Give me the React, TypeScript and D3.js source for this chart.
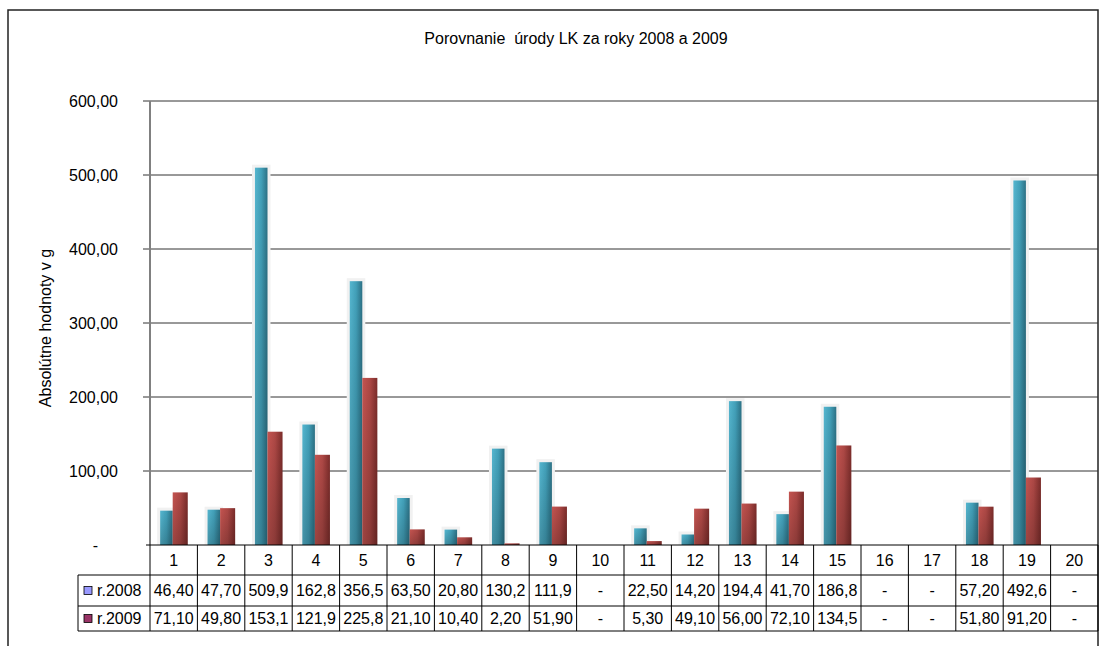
import { useEffect, useRef } from "react"
import * as d3 from "d3"

const categories = ["1", "2", "3", "4", "5", "6", "7", "8", "9", "10", "11", "12", "13", "14", "15", "16", "17", "18", "19", "20"]
const series = ["r.2008", "r.2009"]
const values2008: (number | null)[] = [46.4, 47.7, 509.9, 162.8, 356.5, 63.5, 20.8, 130.2, 111.9, null, 22.5, 14.2, 194.4, 41.7, 186.8, null, null, 57.2, 492.6, null]
const values2009: (number | null)[] = [71.1, 49.8, 153.1, 121.9, 225.8, 21.1, 10.4, 2.2, 51.9, null, 5.3, 49.1, 56.0, 72.1, 134.5, null, null, 51.8, 91.2, null]
const yTicks = [0, 100, 200, 300, 400, 500, 600]
const legendColors = ["#9999ff", "#993366"]

const W = 1104
const H = 646
const FONT = "'Liberation Sans', Arial, sans-serif"
const FS = 16

const sk = d3.formatLocale({ decimal: ",", thousands: " ", grouping: [3], currency: ["", ""] })
const f2 = sk.format(".2f")
const f1 = sk.format(".1f")
const cellText = (v: number | null) => (v == null ? "-" : v >= 100 ? f1(v) : f2(v))

export default function App() {
  const svgRef = useRef<SVGSVGElement>(null)

  useEffect(() => {
    if (!svgRef.current) return
    const svg = d3.select(svgRef.current)
    svg.selectAll("*").remove()

    const left = 150
    const right = 1098
    const x = d3.scaleBand<string>().domain(categories).range([left, right]).padding(0)
    const xs = d3.scaleBand<string>().domain(series).range([0, x.bandwidth()]).paddingInner(0).paddingOuter(0.75)
    const y = d3.scaleLinear().domain([0, 600]).range([545, 101])

    const defs = svg.append("defs")
    const tealG = defs.append("linearGradient").attr("id", "teal").attr("x1", 0).attr("x2", 1).attr("y1", 0).attr("y2", 0)
    tealG.append("stop").attr("offset", 0).attr("stop-color", "#55b6cf")
    tealG.append("stop").attr("offset", 0.5).attr("stop-color", "#42a0b9")
    tealG.append("stop").attr("offset", 1).attr("stop-color", "#2c7185")
    const redG = defs.append("linearGradient").attr("id", "red").attr("x1", 0).attr("x2", 1).attr("y1", 0).attr("y2", 0)
    redG.append("stop").attr("offset", 0).attr("stop-color", "#c45450")
    redG.append("stop").attr("offset", 0.5).attr("stop-color", "#ad4845")
    redG.append("stop").attr("offset", 1).attr("stop-color", "#7b2c2a")
    const shade = defs.append("linearGradient").attr("id", "shade").attr("x1", 0).attr("x2", 0).attr("y1", 0).attr("y2", 1)
    shade.append("stop").attr("offset", 0).attr("stop-color", "#000").attr("stop-opacity", 0)
    shade.append("stop").attr("offset", 1).attr("stop-color", "#000").attr("stop-opacity", 0.2)

    svg.append("rect").attr("width", W).attr("height", H).attr("fill", "#fff")

    // outer frame
    svg.append("rect").attr("x", 8).attr("y", 10).attr("width", 1090).attr("height", 700)
      .attr("fill", "none").attr("stroke", "#222").attr("stroke-width", 1.5)

    // title
    svg.append("text").attr("x", 576).attr("y", 38).attr("dy", "0.35em").attr("text-anchor", "middle")
      .attr("font-family", FONT).attr("font-size", FS).attr("fill", "#000").attr("xml:space", "preserve")
      .text("Porovnanie  úrody LK za roky 2008 a 2009")

    // y label
    svg.append("text").attr("transform", "translate(45,328) rotate(-90)").attr("dy", "0.35em")
      .attr("text-anchor", "middle").attr("font-family", FONT).attr("font-size", FS).attr("fill", "#000")
      .text("Absolútne hodnoty v g")

    // grid + ticks
    svg.append("g").selectAll("line").data(yTicks.filter((t) => t > 0)).join("line")
      .attr("x1", 143).attr("x2", right).attr("y1", (d) => y(d)).attr("y2", (d) => y(d))
      .attr("stroke", "#333").attr("stroke-width", 1)
    svg.append("g").selectAll("text").data(yTicks).join("text")
      .attr("x", (d) => (d === 0 ? 98 : 118)).attr("y", (d) => y(d)).attr("dy", "0.35em")
      .attr("text-anchor", "end").attr("font-family", FONT).attr("font-size", FS).attr("fill", "#000")
      .text((d) => (d === 0 ? "-" : f2(d)))
    svg.append("line").attr("x1", left).attr("x2", left).attr("y1", y(600)).attr("y2", y(0))
      .attr("stroke", "#808080").attr("stroke-width", 2)

    // bars
    const bars = svg.append("g")
    categories.forEach((c, i) => {
      const v1 = values2008[i]
      const v2 = values2009[i]
      const x0 = x(c)!
      if (v1 != null) {
        const bx = x0 + xs("r.2008")!
        const bw = xs.bandwidth() - 1
        bars.append("rect").attr("x", bx - 3).attr("y", y(v1) - 3).attr("width", bw + 6).attr("height", y(0) - y(v1) + 3)
          .attr("fill", "#f1f1f1")
        bars.append("rect").attr("x", bx).attr("y", y(v1)).attr("width", bw).attr("height", y(0) - y(v1)).attr("fill", "url(#teal)")
        bars.append("rect").attr("x", bx).attr("y", y(v1)).attr("width", bw).attr("height", y(0) - y(v1)).attr("fill", "url(#shade)")
      }
      if (v2 != null) {
        const bx = x0 + xs("r.2009")! - 1
        const bw = xs.bandwidth() + 1.5
        bars.append("rect").attr("x", bx).attr("y", y(v2)).attr("width", bw).attr("height", y(0) - y(v2)).attr("fill", "url(#red)")
        bars.append("rect").attr("x", bx).attr("y", y(v2)).attr("width", bw).attr("height", y(0) - y(v2)).attr("fill", "url(#shade)")
      }
    })

    // data table
    const rowY = [545, 575, 606, 631]
    const tbl = svg.append("g").attr("stroke", "#000").attr("stroke-width", 1)
    tbl.append("line").attr("x1", 146).attr("x2", right).attr("y1", rowY[0]).attr("y2", rowY[0])
    rowY.slice(1).forEach((ry) => {
      tbl.append("line").attr("x1", 78).attr("x2", right).attr("y1", ry).attr("y2", ry)
    })
    tbl.append("line").attr("x1", 78).attr("x2", 78).attr("y1", rowY[1]).attr("y2", rowY[3])
    tbl.selectAll("line.v").data([...categories.map((c) => x(c)!), right]).join("line")
      .attr("x1", (d) => d).attr("x2", (d) => d).attr("y1", rowY[0]).attr("y2", rowY[3])

    const txt = svg.append("g").attr("font-family", FONT).attr("font-size", FS).attr("fill", "#000").attr("text-anchor", "middle")
    txt.selectAll("text.h").data(categories).join("text")
      .attr("x", (d) => x(d)! + x.bandwidth() / 2).attr("y", (rowY[0] + rowY[1]) / 2).attr("dy", "0.35em").text((d) => d)
    ;[values2008, values2009].forEach((vals, r) => {
      const cy = (rowY[r + 1] + rowY[r + 2]) / 2
      txt.append("g").selectAll("text").data(vals).join("text")
        .attr("x", (_, i) => x(categories[i])! + x.bandwidth() / 2).attr("y", cy).attr("dy", "0.35em")
        .text((d) => cellText(d))
      svg.append("rect").attr("x", 84).attr("y", cy - 4).attr("width", 8).attr("height", 8)
        .attr("fill", legendColors[r]).attr("stroke", "#000").attr("stroke-width", 0.8)
      svg.append("text").attr("x", 97).attr("y", cy).attr("dy", "0.35em").attr("font-family", FONT)
        .attr("font-size", FS).attr("fill", "#000").text(series[r])
    })
  }, [])

  return (
    <svg ref={svgRef} width={W} height={H} style={{ position: "absolute", left: 0, top: 0, display: "block" }} />
  )
}
